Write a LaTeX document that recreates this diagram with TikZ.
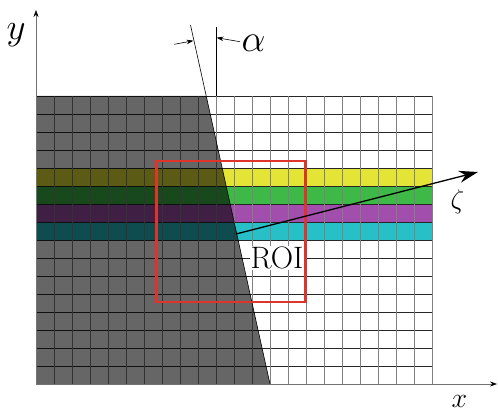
\RequirePackage{fix-cm}
\documentclass[tikz,border=0pt]{standalone}
\usepackage{fontspec}
\usetikzlibrary{arrows.meta}
\definecolor{cyel}{RGB}{228,228,55}
\definecolor{cgrn}{RGB}{62,184,70}
\definecolor{cpur}{RGB}{162,78,172}
\definecolor{ccya}{RGB}{38,192,198}
\definecolor{croi}{RGB}{222,52,44}
\tikzset{
  hline/.style={black!85,line width=0.6pt},
  vline/.style={black!50,line width=0.6pt},
  axis/.style={black!55,line width=0.6pt,-{Stealth[black,length=7pt,width=5pt]}},
  thin line/.style={black,line width=0.6pt},
  dim arrow/.style={black,line width=0.6pt,-{Stealth[length=7pt,width=4.5pt]}},
  lab/.style={inner sep=0pt},
}
\begin{document}
\begin{tikzpicture}[x=1pt,y=-1pt]
\useasboundingbox (0,0) rectangle (498,411);
% colored rows
\fill[cyel] (36,168) rectangle (432,186);
\fill[cgrn] (36,186) rectangle (432,204);
\fill[cpur] (36,204) rectangle (432,222);
\fill[ccya] (36,222) rectangle (432,240);
% grid
\foreach \i in {0,...,16} \draw[hline] (36,96+18*\i) -- (432,96+18*\i);
\foreach \j in {0,...,22} \draw[vline] (36+18*\j,96) -- (36+18*\j,384);
% dark region
\coordinate (T) at (190.5,25);
\coordinate (B) at (270,384);
\coordinate (E) at (206.2,96);
\fill[black,fill opacity=0.6] (36,96) -- (E) -- (B) -- (36,384) -- cycle;
\draw[thin line] (T) -- (B);
% vertical reference line
\coordinate (V1) at (216,27);
\coordinate (V2) at (216,96);
\draw[thin line] (V1) -- (V2);
% alpha arrows
\coordinate (A1s) at (174.3,44.3);
\coordinate (A1e) at (193.5,40.7);
\coordinate (A2s) at (240,41.7);
\coordinate (A2e) at (216.5,37.7);
\draw[dim arrow] (A1s) -- (A1e);
\draw[dim arrow] (A2s) -- (A2e);
\node[lab,anchor=west] (alpha) at (241.5,43) {\fontsize{38}{38}\selectfont$\alpha$};
% ROI label
\node[fill=white,inner xsep=0.5pt,inner ysep=1pt] (roitext) at (277,258) {\fontsize{31}{31}\selectfont ROI};
% ROI box
\node[draw=croi,line width=2.3pt,minimum width=149pt,minimum height=141pt,inner sep=0pt] (roi) at (231,231.5) {};
% zeta arrow
\coordinate (Z1) at (236,234);
\coordinate (Z2) at (478,172);
\draw[black,line width=1.3pt,-{Stealth[length=19pt,width=12pt]}] (Z1) -- (Z2);
\node[lab] (zeta) at (457.5,201.5) {\fontsize{27}{27}\selectfont$\zeta$};
% axes
\coordinate (O) at (36,384);
\coordinate (Y) at (36,10);
\coordinate (X) at (497,384);
\draw[axis] (O) -- (Y);
\draw[axis] (O) -- (X);
\node[lab] (ylab) at (16,35) {\fontsize{37}{37}\selectfont$y$};
\node[lab] (xlab) at (459.5,401) {\fontsize{28}{28}\selectfont$x$};
\end{tikzpicture}
\end{document}
